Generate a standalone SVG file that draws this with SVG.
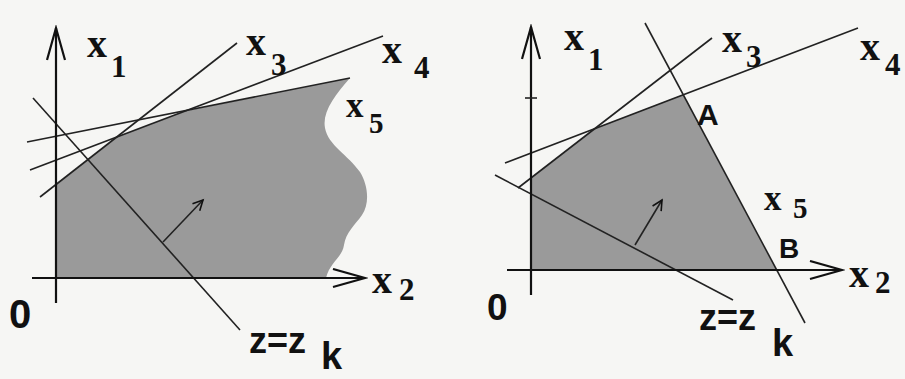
<svg xmlns="http://www.w3.org/2000/svg" width="905" height="379" viewBox="0 0 905 379">
<style>
.ln{stroke:#222;stroke-width:1.6;fill:none}
.ax{stroke:#111;stroke-width:2.2;fill:none}
.reg{fill:#9a9a9a;stroke:none}
.sx{font-family:"Liberation Serif",serif;font-weight:bold;font-size:40px;fill:#111}
.sd{font-family:"Liberation Serif",serif;font-weight:bold;font-size:31px;fill:#111}
.ss{font-family:"Liberation Sans",Arial,sans-serif;font-weight:bold;fill:#111}
</style>
<defs>
<marker id="axh" markerUnits="userSpaceOnUse" markerWidth="36" markerHeight="22" refX="33" refY="10" orient="auto">
<path d="M1,1 L33,10 L1,19" fill="none" stroke="#111" stroke-width="2.2"/>
</marker>
<marker id="vh" markerUnits="userSpaceOnUse" markerWidth="14" markerHeight="14" refX="11" refY="6" orient="auto">
<path d="M1,1 L11,6 L1,11" fill="none" stroke="#111" stroke-width="1.6"/>
</marker>
</defs>
<rect width="905" height="379" fill="#f6f6f4"/>
<g id="left-panel">
<path id="left-region" class="reg" d="M56,278 L56,184 L117,137 L186,111 L350,78 C335,95 322,112 325,128 C328,145 348,155 360,172 C368,185 370,203 362,215 C355,225 346,232 344,245 C342,258 330,262 326,278 Z"/>
<g id="left-lines">
<line class="ln" x1="40" y1="197" x2="237" y2="43"/>
<line class="ln" x1="30" y1="170" x2="383" y2="36"/>
<line class="ln" x1="27" y1="142" x2="350" y2="78"/>
<line class="ln" x1="33" y1="98" x2="240" y2="330"/>
<line class="ln" x1="163" y1="242" x2="203" y2="200" marker-end="url(#vh)"/>
</g>
<g id="left-axes">
<line class="ax" x1="56" y1="303" x2="56" y2="28" marker-end="url(#axh)"/>
<line class="ax" x1="32" y1="278" x2="365" y2="278" marker-end="url(#axh)"/>
</g>
<g id="left-labels">
<text class="sx" x="87" y="57">x</text><text class="sd" x="111" y="77">1</text>
<text class="sx" x="246" y="55">x</text><text class="sd" x="271" y="75">3</text>
<text class="sx" x="382" y="63">x</text><text class="sd" x="414" y="78">4</text>
<text class="sx" x="346" y="117" style="font-size:35px">x</text><text class="sd" x="369" y="133" style="font-size:29px">5</text>
<text class="sx" x="372" y="293">x</text><text class="sd" x="399" y="300">2</text>
<text class="ss" x="9" y="328" style="font-size:40px">0</text>
<text class="ss" x="249" y="353" style="font-size:36px">z=z</text>
<text class="ss" x="321" y="369" style="font-size:38px">k</text>
</g>
</g>
<g id="right-panel">
<path id="right-region" class="reg" d="M531,270 L531,178 L594.6,128.8 L683.3,94.6 L776.7,270 Z"/>
<g id="right-lines">
<line class="ln" x1="518" y1="188" x2="712" y2="38"/>
<line class="ln" x1="505" y1="163" x2="858" y2="28"/>
<line class="ln" x1="645" y1="23" x2="805" y2="323"/>
<line class="ln" x1="495" y1="175" x2="733" y2="300"/>
<line class="ln" x1="635" y1="245" x2="662" y2="200" marker-end="url(#vh)"/>
</g>
<g id="right-axes">
<line class="ax" x1="531" y1="295" x2="531" y2="27" marker-end="url(#axh)"/>
<line class="ln" x1="525" y1="98" x2="537" y2="98"/>
<line class="ax" x1="507" y1="270" x2="842" y2="270" marker-end="url(#axh)"/>
</g>
<g id="right-labels">
<text class="sx" x="564" y="50">x</text><text class="sd" x="588" y="70">1</text>
<text class="sx" x="722" y="52">x</text><text class="sd" x="746" y="67">3</text>
<text class="sx" x="860" y="60">x</text><text class="sd" x="885" y="75">4</text>
<text class="ss" x="697" y="125" style="font-size:30px">A</text>
<text class="sx" x="764" y="210" style="font-size:35px">x</text><text class="sd" x="793" y="218" style="font-size:29px">5</text>
<text class="ss" x="779" y="258" style="font-size:28px">B</text>
<text class="sx" x="849" y="287">x</text><text class="sd" x="875" y="293">2</text>
<text class="ss" x="487" y="320" style="font-size:37px">0</text>
<text class="ss" x="699" y="330" style="font-size:36px">z=z</text>
<text class="ss" x="772" y="356" style="font-size:38px">k</text>
</g>
</g>
</svg>
